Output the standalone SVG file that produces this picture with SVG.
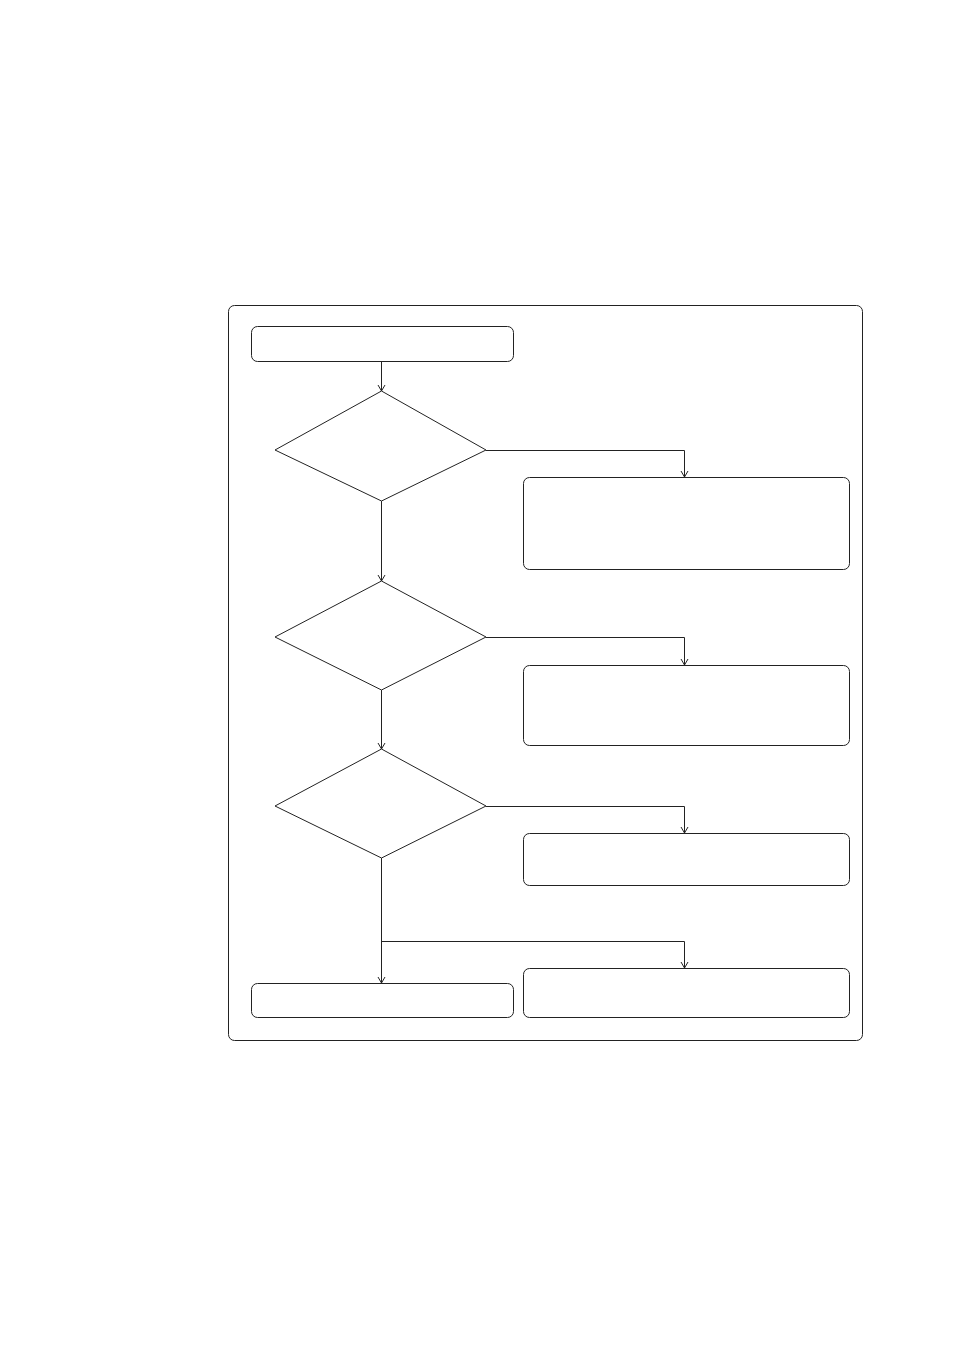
<svg xmlns="http://www.w3.org/2000/svg" width="954" height="1351" viewBox="0 0 954 1351">
<style>
.n{fill:#fff;stroke:#222;stroke-width:1}
.c{fill:none;stroke:#222;stroke-width:1}
</style>
<defs>
<marker id="a" markerWidth="10" markerHeight="10" refX="8" refY="5" orient="auto" markerUnits="userSpaceOnUse">
<path d="M2,1.5 L8,5 L2,8.5" fill="none" stroke="#222" stroke-width="1"/>
</marker>
</defs>
<rect width="954" height="1351" fill="#fff"/>
<g id="frame"><rect class="n" x="228.5" y="305.5" width="634" height="735" rx="6"/></g>
<g id="start"><rect class="n" x="251.5" y="326.5" width="262" height="35" rx="6"/></g>
<g id="d1"><polygon class="n" points="381.5,391 486,450 381.5,501 275,450"/></g>
<g id="b1"><rect class="n" x="523.5" y="477.5" width="326" height="92" rx="6"/></g>
<g id="d2"><polygon class="n" points="381.5,581 486,637 381.5,690 275,637"/></g>
<g id="b2"><rect class="n" x="523.5" y="665.5" width="326" height="80" rx="6"/></g>
<g id="d3"><polygon class="n" points="381.5,749 486,806 381.5,858 275,806"/></g>
<g id="b3"><rect class="n" x="523.5" y="833.5" width="326" height="52" rx="6"/></g>
<g id="b4"><rect class="n" x="251.5" y="983.5" width="262" height="34" rx="6"/></g>
<g id="b5"><rect class="n" x="523.5" y="968.5" width="326" height="49" rx="6"/></g>
<g id="connectors">
<path class="c" d="M381.5,361 V391" marker-end="url(#a)"/>
<path class="c" d="M486,450.5 H684.5 V477" marker-end="url(#a)"/>
<path class="c" d="M381.5,501 V581" marker-end="url(#a)"/>
<path class="c" d="M486,637.5 H684.5 V665" marker-end="url(#a)"/>
<path class="c" d="M381.5,690 V749" marker-end="url(#a)"/>
<path class="c" d="M486,806.5 H684.5 V833" marker-end="url(#a)"/>
<path class="c" d="M381.5,858 V983" marker-end="url(#a)"/>
<path class="c" d="M381.5,941.5 H684.5 V968" marker-end="url(#a)"/>
</g>
</svg>
